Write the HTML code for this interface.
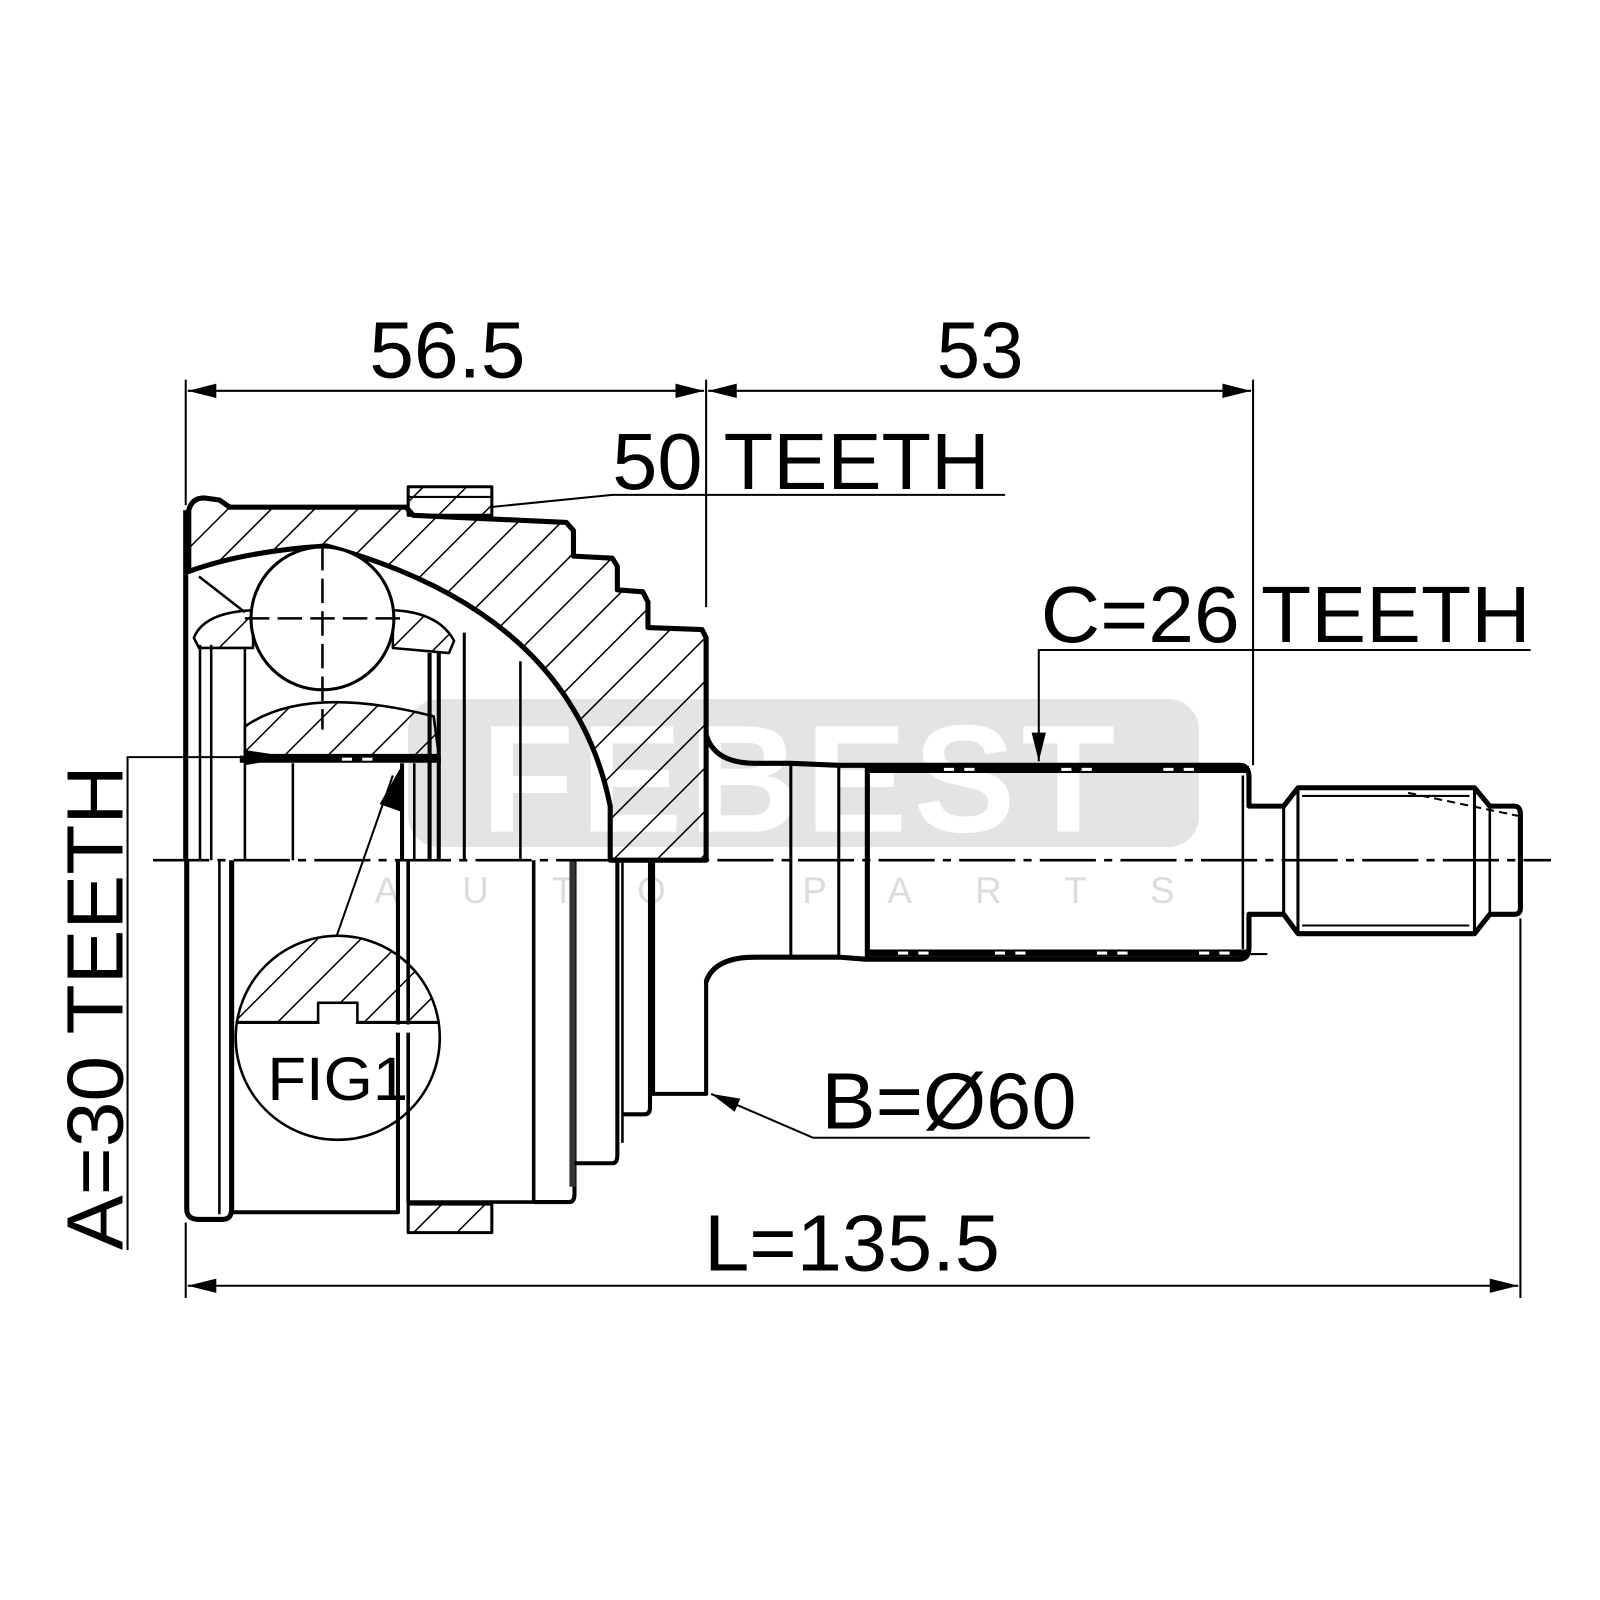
<!DOCTYPE html>
<html><head><meta charset="utf-8"><style>
html,body{margin:0;padding:0;background:#fff;}
svg{display:block;}
text{font-family:"Liberation Sans",Arial,sans-serif;fill:#000;}
</style></head><body>
<svg width="1600" height="1600" viewBox="0 0 1568 1568" xmlns="http://www.w3.org/2000/svg">
<defs>
<pattern id="h" patternUnits="userSpaceOnUse" width="30" height="30" patternTransform="rotate(45)">
<line x1="0" y1="0" x2="0" y2="30" stroke="#000" stroke-width="3"/>
</pattern>
<marker id="ar" viewBox="0 0 20 10" refX="20" refY="5" markerWidth="60" markerHeight="14" markerUnits="userSpaceOnUse" orient="auto-start-reverse">
<path d="M0,0 L20,5 L0,10 Z" fill="#000"/>
</marker>
</defs>

<!-- watermark -->
<rect x="400" y="685" width="775" height="145" rx="30" fill="#e4e4e4"/>
<text x="785" y="815" font-size="150" font-weight="bold" text-anchor="middle" style="fill:#fff" letter-spacing="6">FEBEST</text>
<text x="790" y="885" font-size="36" text-anchor="middle" style="fill:#dcdcdc" letter-spacing="62">AUTO PARTS</text>

<g fill="none" stroke="#000" stroke-linejoin="round">
<path d="M185,560 L185,500 Q188,488 200,488 L215,490 L225,497 L398,497 L405,505 L555,512 L562,520 L562,545 L600,547 L605,555 L605,578 L630,580 L635,590 L635,615 L688,617 L692,625 L692,843 L598,843 L598,790 Q560,600 320,535 Q240,540 185,560 Z" fill="url(#h)" stroke-width="5"/>
<rect x="400" y="477" width="82" height="28" fill="url(#h)" stroke-width="3"/>
<line x1="400" y1="487" x2="482" y2="487" stroke-width="2"/>
<path d="M190,625 Q200,600 248,598 L248,635 L195,635 Z" fill="url(#h)" stroke-width="2.5"/>
<path d="M385,598 Q430,600 445,628 L440,640 L385,635 Z" fill="url(#h)" stroke-width="2.5"/>
<line x1="195" y1="565" x2="240" y2="600" stroke-width="2.5"/>
<path d="M240,740 L240,712 Q300,670 425,702 L430,740 Z" fill="url(#h)" stroke-width="2.5"/>
<circle cx="316" cy="606" r="70" fill="#fff" stroke-width="3"/>
<line x1="316" y1="535" x2="316" y2="715" stroke-width="2.5" stroke-dasharray="24,8"/>
<line x1="240" y1="606" x2="395" y2="606" stroke-width="2.5" stroke-dasharray="24,8"/>
<line x1="235" y1="744" x2="432" y2="744" stroke-width="7"/>
<line x1="196" y1="632" x2="196" y2="843" stroke-width="2.5"/>
<line x1="207" y1="632" x2="207" y2="843" stroke-width="2.5"/>
<line x1="240" y1="635" x2="240" y2="843" stroke-width="2.5"/>
<line x1="287" y1="748" x2="287" y2="843" stroke-width="2.5"/>
<line x1="394" y1="748" x2="394" y2="843" stroke-width="4"/>
<line x1="406" y1="748" x2="406" y2="843" stroke-width="2.5"/>
<line x1="421" y1="640" x2="421" y2="843" stroke-width="4"/>
<line x1="430" y1="640" x2="430" y2="843" stroke-width="4"/>
<line x1="455" y1="620" x2="455" y2="843" stroke-width="3"/>
<line x1="510" y1="648" x2="510" y2="843" stroke-width="2.5"/>
<line x1="182" y1="500" x2="182" y2="843" stroke-width="5"/>

<path d="M183,843 L183,1185 Q183,1195 195,1195 L218,1195 Q227,1195 227,1185 L227,843" stroke-width="5"/>
<line x1="215" y1="843" x2="215" y2="1190" stroke-width="2.5"/>
<path d="M227,1188 L390,1188 L390,843" stroke-width="4"/>
<path d="M400,843 L400,1178 L523,1178 L523,843" stroke-width="3.5"/>
<path d="M523,1178 L558,1178 Q563,1178 563,1170 L563,843" stroke-width="4"/>
<rect x="558" y="843" width="6" height="320" fill="#333" stroke="none"/>
<path d="M563,1140 L600,1140 Q605,1140 605,1132 L605,843" stroke-width="4"/>
<line x1="610" y1="843" x2="610" y2="1120" stroke-width="2.5"/>
<path d="M610,1092 L632,1092 Q637,1092 637,1085 L637,843" stroke-width="4"/>
<path d="M640,843 L640,1072 L692,1072 L692,960" stroke-width="4"/>
<rect x="400" y="1180" width="82" height="28" fill="url(#h)" stroke-width="3"/>

<path d="M232,1002 A100,100 0 0 1 430,1002 Z" fill="url(#h)" stroke="none"/>
<circle cx="331" cy="1017" r="100" fill="none" stroke-width="2.5"/>
<path d="M231,1002 L312,1002 L312,983 L350,983 L350,1002 L431,1002" stroke-width="3" fill="#fff"/>
<rect x="313" y="984" width="36" height="18" fill="#fff" stroke="none"/>
<rect x="233" y="1004" width="196" height="8" fill="#fff" stroke="none"/>
<line x1="330" y1="917" x2="385" y2="760" stroke-width="2"/>
<path d="M395,748 L392,795 L372,788 Z" fill="#000" stroke="none"/>

<path d="M692,720 Q700,748 740,748 L775,748 L822,750 L848,750 L1215,750 Q1224,750 1224,762 L1224,790 L1258,790 L1272,772 L1445,772 L1460,790 L1484,790 Q1490,790 1490,798 L1490,890 Q1490,896 1484,896 L1460,896 L1445,915 L1272,915 L1258,896 L1224,896 L1224,928 Q1224,940 1215,940 L848,940 L822,938 L775,938 L740,938 Q700,938 692,962" stroke-width="5"/>
<line x1="848" y1="754" x2="1224" y2="754" stroke-width="7"/>
<line x1="848" y1="934" x2="1224" y2="934" stroke-width="7"/>
<line x1="775" y1="748" x2="775" y2="938" stroke-width="3"/>
<line x1="822" y1="750" x2="822" y2="938" stroke-width="3"/>
<line x1="850" y1="752" x2="850" y2="938" stroke-width="5"/>
<line x1="1218" y1="760" x2="1218" y2="930" stroke-width="2.5"/>
<line x1="1258" y1="790" x2="1258" y2="896" stroke-width="3"/>
<line x1="1272" y1="772" x2="1272" y2="915" stroke-width="3"/>
<line x1="1276" y1="780" x2="1440" y2="780" stroke-width="2"/>
<line x1="1276" y1="907" x2="1440" y2="907" stroke-width="2"/>
<line x1="1445" y1="772" x2="1445" y2="915" stroke-width="3"/>
<line x1="1460" y1="790" x2="1460" y2="896" stroke-width="2.5"/>
<line x1="1380" y1="777" x2="1490" y2="800" stroke-width="2" stroke-dasharray="8,5"/>
<line x1="1224" y1="935" x2="1242" y2="935" stroke-width="2"/>

<g stroke="#fff" stroke-width="3">
<line x1="925" y1="754" x2="935" y2="754"/><line x1="945" y1="754" x2="955" y2="754"/>
<line x1="1040" y1="754" x2="1050" y2="754"/><line x1="1060" y1="754" x2="1070" y2="754"/>
<line x1="1140" y1="754" x2="1150" y2="754"/><line x1="1160" y1="754" x2="1170" y2="754"/>
<line x1="880" y1="934" x2="890" y2="934"/><line x1="900" y1="934" x2="910" y2="934"/>
<line x1="975" y1="934" x2="985" y2="934"/><line x1="995" y1="934" x2="1005" y2="934"/>
<line x1="1075" y1="934" x2="1085" y2="934"/><line x1="1095" y1="934" x2="1105" y2="934"/>
<line x1="1175" y1="934" x2="1185" y2="934"/><line x1="1195" y1="934" x2="1205" y2="934"/>
<line x1="335" y1="744" x2="345" y2="744"/><line x1="355" y1="744" x2="365" y2="744"/>
</g>

<line x1="150" y1="843" x2="1520" y2="843" stroke-width="2.5" stroke-dasharray="55,8,8,8"/>

<g stroke-width="2">
<line x1="182" y1="372" x2="182" y2="495"/>
<line x1="692" y1="372" x2="692" y2="595"/>
<line x1="1228" y1="372" x2="1228" y2="750"/>
<line x1="184" y1="383" x2="690" y2="383" marker-start="url(#ar)" marker-end="url(#ar)"/>
<line x1="694" y1="383" x2="1226" y2="383" marker-start="url(#ar)" marker-end="url(#ar)"/>
<line x1="182" y1="1198" x2="182" y2="1272"/>
<line x1="1490" y1="900" x2="1490" y2="1272"/>
<line x1="184" y1="1260" x2="1488" y2="1260" marker-start="url(#ar)" marker-end="url(#ar)"/>
<polyline points="985,485 600,485 480,497"/>
<polyline points="1500,637 1018,637 1018,746" marker-end="url(#ar)"/>
<polyline points="1068,1115 797,1115 697,1072" marker-end="url(#ar)"/>
<polyline points="240,742 125,742 125,1225"/>
</g>
</g>
<path d="M240,735 L285,742 L240,750 Z" fill="#000"/>

<g font-size="78">
<text x="362" y="370" textLength="153" lengthAdjust="spacingAndGlyphs">56.5</text>
<text x="918" y="370" textLength="85" lengthAdjust="spacingAndGlyphs">53</text>
<text x="600" y="479" textLength="370" lengthAdjust="spacingAndGlyphs">50 TEETH</text>
<text x="1020" y="629" textLength="480" lengthAdjust="spacingAndGlyphs">C=26 TEETH</text>
<text x="805" y="1106" textLength="250" lengthAdjust="spacingAndGlyphs">B=Ø60</text>
<text x="690" y="1245" textLength="290" lengthAdjust="spacingAndGlyphs">L=135.5</text>
<text transform="translate(120,1225) rotate(-90)" textLength="475" lengthAdjust="spacingAndGlyphs">A=30 TEETH</text>
</g>
<text x="262" y="1078" font-size="60" textLength="138" lengthAdjust="spacingAndGlyphs">FIG1</text>
</svg>
</body></html>
